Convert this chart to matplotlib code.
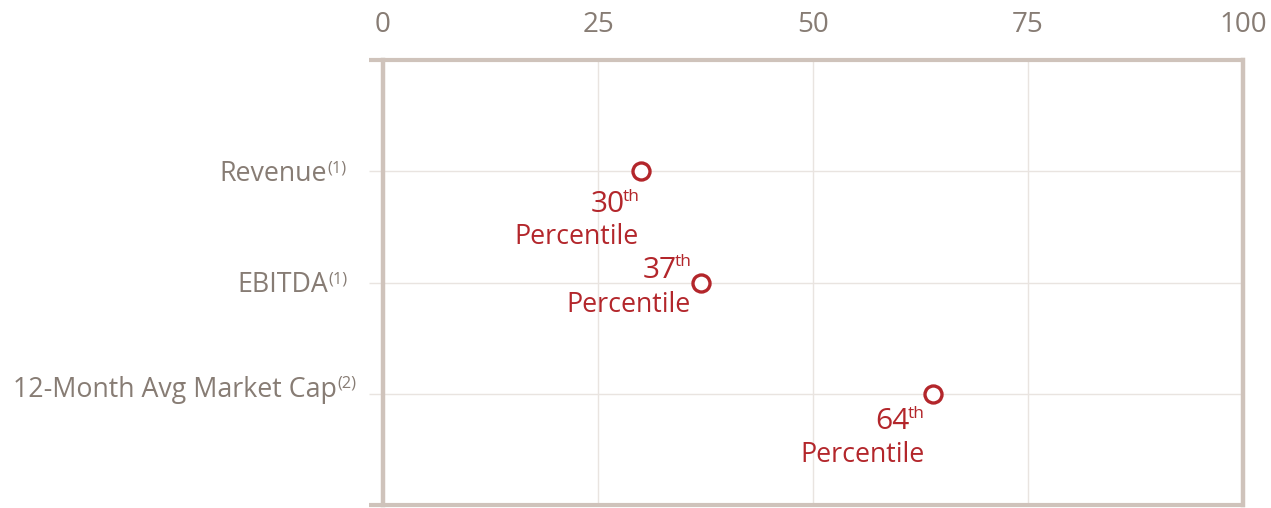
import matplotlib
matplotlib.use("Agg")
import matplotlib.pyplot as plt

categories = ["Revenue", "EBITDA", "12-Month Avg Market Cap"]
footnotes = ["(1)", "(1)", "(2)"]
percentiles = [30, 37, 64]
xticks = [0, 25, 50, 75, 100]

plt.rcParams['font.family'] = ['Open Sans', 'DejaVu Sans']

GRAY = '#877c74'
RED = '#b3262b'
FRAME = '#cfc3bb'
GRID = '#e9e4e0'
PX = 72 / 100  # pixels -> points

fig = plt.figure(figsize=(12.71, 5.08), dpi=100)
ax = fig.add_axes([383/1271, 1-505/508, 860/1271, 445/508])

ypos = list(range(len(categories)))
ax.set_xlim(0, 100)
ax.set_ylim(len(categories), -1)

ax.scatter(percentiles, ypos, s=150, facecolors='white', edgecolors=RED,
           linewidths=2.4, zorder=5)

ax.set_xticks(xticks)
ax.set_xticklabels([str(t) for t in xticks])
ax.xaxis.tick_top()
ax.tick_params(axis='x', length=0, pad=15, labelsize=20, labelcolor=GRAY)

ax.set_yticks(ypos)
ax.set_yticklabels([])
ax.tick_params(axis='y', length=10, width=1, color=GRID)

ax.grid(True, color=GRID, linewidth=1)
ax.set_axisbelow(True)

for s in ['top', 'bottom']:
    ax.spines[s].set_visible(False)
for s in ['left', 'right']:
    ax.spines[s].set_color(FRAME)
    ax.spines[s].set_linewidth(3.2)

ext = -14/860
ax.plot([ext, 1.0018], [1, 1], transform=ax.transAxes, color=FRAME, lw=3,
        clip_on=False, solid_capstyle='butt', zorder=6)
ax.plot([ext, 1.0018], [0, 0], transform=ax.transAxes, color=FRAME, lw=3,
        clip_on=False, solid_capstyle='butt', zorder=6)

fig.canvas.draw()
renderer = fig.canvas.get_renderer()

# category labels with superscript footnotes (offsets in pixels: right edge, baseline below tick)
ylab_off = [(-56, 10), (-55, 10), (-46, 3)]
for y, cat, fn, (dx, dy) in zip(ypos, categories, footnotes, ylab_off):
    ax.annotate(cat, xy=(0, y), xycoords=('axes fraction', 'data'),
                xytext=(dx*PX, -dy*PX), textcoords='offset points',
                ha='right', va='baseline', color=GRAY, fontsize=19.3,
                annotation_clip=False)
    ax.annotate(fn, xy=(0, y), xycoords=('axes fraction', 'data'),
                xytext=((dx + 0.5)*PX, -(dy - 9)*PX), textcoords='offset points',
                ha='left', va='baseline', color=GRAY, fontsize=11.8,
                annotation_clip=False)

# percentile labels: (right edge dx, number baseline dy, 'Percentile' right dx, baseline dy), pixels
lab_off = [(-1, 41, -2, 73), (-10, -5, -11, 29), (-9, 35, -9, 68)]
for x, y, (dx, dyn, dxp, dyp) in zip(percentiles, ypos, lab_off):
    sup = ax.annotate("th", (x, y), xytext=(dx*PX, -(dyn - 11)*PX),
                      textcoords='offset points', ha='right', va='baseline',
                      color=RED, fontsize=12.5)
    w = sup.get_window_extent(renderer).width
    ax.annotate(str(x), (x, y), xytext=((dx - w + 2)*PX, -dyn*PX),
                textcoords='offset points', ha='right', va='baseline',
                color=RED, fontsize=21.5)
    ax.annotate("Percentile", (x, y), xytext=(dxp*PX, -dyp*PX),
                textcoords='offset points', ha='right', va='baseline',
                color=RED, fontsize=19.3)

fig.savefig("out.png", dpi=100)
